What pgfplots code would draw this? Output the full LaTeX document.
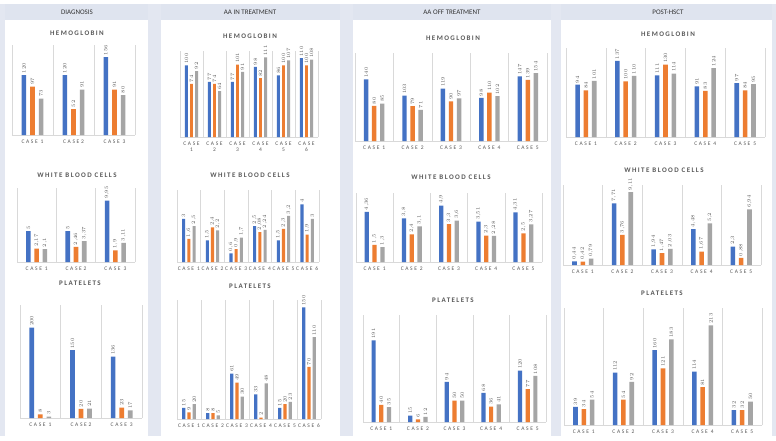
\documentclass[border=0pt]{standalone}
\usepackage{fontspec}
\setmainfont{Carlito}
\newfontfamily\spaced[LetterSpace=30]{Carlito}
\newfontfamily\tspaced[LetterSpace=20]{Carlito}
\newfontfamily\vspaced[LetterSpace=10]{Carlito}
\usepackage{pgfplots}
\pgfplotsset{compat=1.18}
\usepackage{pgfplotstable}

\definecolor{cblue}{HTML}{4472C4}
\definecolor{corange}{HTML}{ED7D31}
\definecolor{cgray}{HTML}{A5A5A5}
\definecolor{strip}{HTML}{E3E7F1}
\definecolor{headband}{HTML}{DFE4EF}
\definecolor{txtgray}{HTML}{595959}
\definecolor{gridgray}{HTML}{D9D9D9}

% diagnosis
\pgfplotstableread{
x a b c
0 120 97 73
1 120 52 91
2 156 91 80
}\dHb
\pgfplotstableread{
x a b c
0 5 2.17 2.1
1 5 2.46 3.37
2 9.95 1.9 3.11
}\dWbc
\pgfplotstableread{
x a b c
0 200 8 3
1 150 20 21
2 136 23 17
}\dPlt
% AA in treatment
\pgfplotstableread{
x a b c
0 100 74 92
1 77 74 64
2 77 101 91
3 98 82 111
4 86 100 107
5 110 100 108
}\iHb
\pgfplotstableread{
x a b c
0 3 1.6 2.5
1 1.5 2.4 2.2
2 0.6 0.9 1.7
3 2.5 2.08 2.24
4 1.5 2.3 3.2
5 4 1.9 3
}\iWbc
\pgfplotstableread{
x a b c
0 15 9 20
1 8 8 5
2 61 49 30
3 33 2 48
4 15 20 23
5 150 70 110
}\iPlt
% AA off treatment
\pgfplotstableread{
x a b c
0 140 80 85
1 103 79 71
2 119 90 97
3 98 110 102
4 147 139 154
}\oHb
\pgfplotstableread{
x a b c
0 4.36 1.5 1.3
1 3.8 2.4 3.1
2 4.9 3.3 3.6
3 3.51 2.3 2.28
4 4.31 2.5 3.27
}\oWbc
\pgfplotstableread{
x a b c
0 191 40 35
1 15 6 12
2 94 50 50
3 68 36 41
4 120 77 108
}\oPlt
% post-HSCT
\pgfplotstableread{
x a b c
0 94 84 101
1 137 100 110
2 111 130 114
3 91 83 124
4 97 84 95
}\pHb
\pgfplotstableread{
x a b c
0 0.44 0.42 0.79
1 7.71 3.76 9.11
2 1.94 1.47 2.03
3 4.48 1.67 5.2
4 2.3 0.88 6.94
}\pWbc
\pgfplotstableread{
x a b c
0 39 34 54
1 112 54 92
2 160 121 183
3 114 81 213
4 32 32 50
}\pPlt

\def\bsh{0.21}
\pgfplotsset{
  panel/.style={
    scale only axis, anchor=south west, ybar, ymin=0, clip=false,
    axis y line=none, axis x line*=bottom,
    x axis line style={-, draw=gridgray, line width=0.6pt},
    major tick length=0pt, minor tick length=0pt,
    xminorgrids=true, minor grid style={draw=gridgray, line width=0.5pt},
    bar width=0.115,
    xticklabel style={font=\spaced\fontsize{5.5}{6}\selectfont, text=txtgray, yshift=-1.5pt},
    nodes near coords,
    every node near coord/.append style={rotate=90, anchor=west, inner sep=1.5pt,
      font=\vspaced\fontsize{5}{5}\selectfont, text=txtgray},
    /pgf/number format/use comma, /pgf/number format/1000 sep={},
  },
  three/.style={xmin=-0.5, xmax=2.5, xtick={0,1,2}, minor xtick={-0.5,0.5,1.5,2.5}},
  five/.style={xmin=-0.5, xmax=4.5, xtick={0,...,4}, minor xtick={-0.5,0.5,...,4.5},
    xticklabels={CASE 1,CASE 2,CASE 3,CASE 4,CASE 5}},
  six/.style={xmin=-0.5, xmax=5.5, xtick={0,...,5}, minor xtick={-0.5,0.5,...,5.5}},
  sA/.style={fill=cblue, draw=none, bar shift=-\bsh},
  sB/.style={fill=corange, draw=none, bar shift=0},
  sC/.style={fill=cgray, draw=none, bar shift=\bsh},
}
\newcommand\bars[1]{%
  \addplot[sA] table[x=x,y=a]{#1};
  \addplot[sB] table[x=x,y=b]{#1};
  \addplot[sC] table[x=x,y=c]{#1};}
\newcommand\ttl[3]{\node[font=\tspaced\bfseries\fontsize{7}{8}\selectfont, text=txtgray] at (#1pt,-#2pt) {#3};}
\newcommand\hdr[3]{\node[font=\fontsize{7}{8}\selectfont, text=black!80] at (#1pt,-#2pt) {#3};}

\begin{document}
\begin{tikzpicture}
\useasboundingbox (0,0) rectangle (776pt,-440pt);
\fill[white] (0,0) rectangle (776pt,-440pt);
% background strips and header bands
\fill[strip] (0pt,-4pt) rectangle (5pt,-436pt);
\fill[strip] (148pt,-4pt) rectangle (161pt,-436pt);
\fill[strip] (340pt,-4pt) rectangle (353pt,-436pt);
\fill[strip] (551pt,-4pt) rectangle (561pt,-436pt);
\fill[strip] (772pt,-4pt) rectangle (776pt,-436pt);
\fill[headband] (5pt,-4pt) rectangle (148pt,-20pt);
\fill[headband] (161pt,-4pt) rectangle (340pt,-20pt);
\fill[headband] (353pt,-4pt) rectangle (551pt,-20pt);
\fill[headband] (561pt,-4pt) rectangle (772pt,-20pt);
\hdr{77}{12}{DIAGNOSIS}
\hdr{250}{12}{AA IN TREATMENT}
\hdr{452}{12}{AA OFF TREATMENT}
\hdr{668}{12}{POST-HSCT}

% ---- diagnosis
\ttl{77}{33}{HEMOGLOBIN}
\begin{axis}[panel, three, at={(12pt,-135pt)}, width=123pt, height=90pt, ymax=180,
  xticklabels={CASE 1,CASE2,CASE 3}]
\bars{\dHb}
\end{axis}
\ttl{77}{175}{WHITE BLOOD CELLS}
\begin{axis}[panel, three, at={(17pt,-262pt)}, width=118pt, height=74pt, ymax=12,
  xticklabels={CASE 1,CASE2,CASE 3}]
\bars{\dWbc}
\end{axis}
\ttl{80}{283}{PLATELETS}
\begin{axis}[panel, three, at={(20pt,-418pt)}, width=122pt, height=113pt, ymax=250,
  xticklabels={CASE 1,CASE2,CASE 3}]
\bars{\dPlt}
\end{axis}

% ---- AA in treatment
\def\bsh{0.22}
\ttl{250}{36}{HEMOGLOBIN}
\begin{axis}[panel, six, at={(180pt,-137pt)}, width=138pt, height=86pt, ymax=120, bar width=0.13,
  xticklabel style={align=center},
  xticklabels={{CASE\\1},{CASE\\2},{CASE\\3},{CASE\\4},{CASE\\5},{CASE\\6}}]
\bars{\iHb}
\end{axis}
\ttl{250}{175}{WHITE BLOOD CELLS}
\begin{axis}[panel, six, at={(177pt,-262pt)}, width=142pt, height=72pt, ymax=5, bar width=0.13,
  xticklabels={CASE 1,CASE 2,CASE 3,CASE 4,CASE 5,CASE 6}]
\bars{\iWbc}
\end{axis}
\ttl{250}{286}{PLATELETS}
\begin{axis}[panel, six, at={(177pt,-419pt)}, width=144pt, height=119pt, ymax=160, bar width=0.13,
  xticklabels={CASE 1,CASE 2,CASE 3,CASE 4,CASE 5,CASE 6}]
\bars{\iPlt}
\end{axis}

% ---- AA off treatment
\def\bsh{0.21}
\ttl{453}{38}{HEMOGLOBIN}
\begin{axis}[panel, five, at={(355pt,-141pt)}, width=192pt, height=88pt, ymax=200]
\bars{\oHb}
\end{axis}
\ttl{451}{177}{WHITE BLOOD CELLS}
\begin{axis}[panel, five, at={(356pt,-262pt)}, width=186pt, height=69pt, ymax=6]
\bars{\oWbc}
\end{axis}
\ttl{453}{300}{PLATELETS}
\begin{axis}[panel, five, at={(363pt,-422pt)}, width=183pt, height=107pt, ymax=250]
\bars{\oPlt}
\end{axis}

% ---- post-HSCT
\ttl{668}{34}{HEMOGLOBIN}
\begin{axis}[panel, five, at={(566pt,-137pt)}, width=199pt, height=89pt, ymax=160]
\bars{\pHb}
\end{axis}
\ttl{664}{170}{WHITE BLOOD CELLS}
\begin{axis}[panel, five, at={(563pt,-265pt)}, width=198pt, height=80pt, ymax=10]
\bars{\pWbc}
\end{axis}
\ttl{662}{293}{PLATELETS}
\begin{axis}[panel, five, at={(564pt,-425pt)}, width=198pt, height=117pt, ymax=250]
\bars{\pPlt}
\end{axis}
\end{tikzpicture}
\end{document}
